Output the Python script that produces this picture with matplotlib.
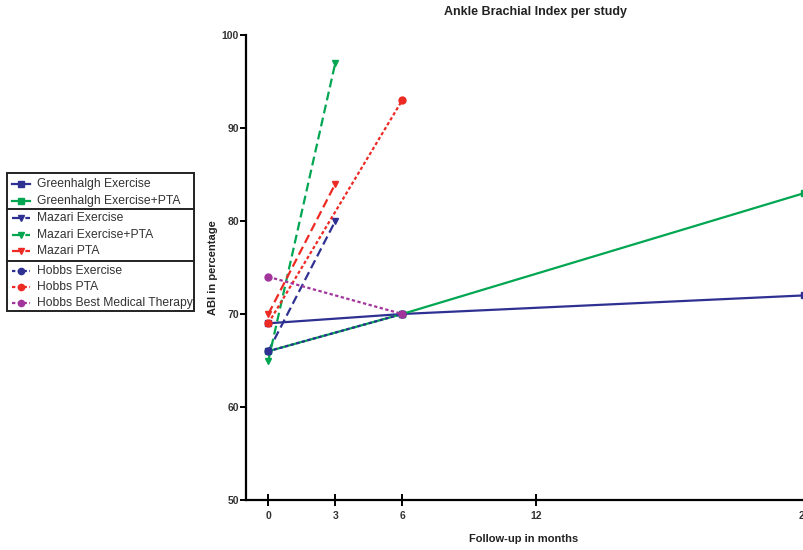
import matplotlib.pyplot as plt
from matplotlib.lines import Line2D
from matplotlib.patches import Rectangle

plt.rcParams['font.family'] = ['Liberation Sans', 'DejaVu Sans']

# follow-up time points (months) and ABI values (%) per study arm
greenhalgh_months = [0, 6, 24]
greenhalgh_exercise = [69, 70, 72]
greenhalgh_exercise_pta = [66, 70, 83]

mazari_months = [0, 3]
mazari_exercise = [66, 80]
mazari_exercise_pta = [65, 97]
mazari_pta = [70, 84]

hobbs_months = [0, 6]
hobbs_exercise = [66, 70]
hobbs_pta = [69, 93]
hobbs_bmt = [74, 70]

x_ticks = [0, 3, 6, 12, 24]
y_ticks = [50, 60, 70, 80, 90, 100]

BLUE = '#2f3192'
GREEN = '#00a651'
RED = '#ee2a24'
MAGENTA = '#a2359c'

DASHED = (4, 2)
DOTTED = (1.5, 1.1)

series = [
    # (label, x, y, colour, dashes, marker)
    ('Greenhalgh Exercise', greenhalgh_months, greenhalgh_exercise, BLUE, None, 's'),
    ('Greenhalgh Exercise+PTA', greenhalgh_months, greenhalgh_exercise_pta, GREEN, None, 's'),
    ('Mazari Exercise', mazari_months, mazari_exercise, BLUE, DASHED, 'v'),
    ('Mazari Exercise+PTA', mazari_months, mazari_exercise_pta, GREEN, DASHED, 'v'),
    ('Mazari PTA', mazari_months, mazari_pta, RED, DASHED, 'v'),
    ('Hobbs Exercise', hobbs_months, hobbs_exercise, BLUE, DOTTED, 'o'),
    ('Hobbs PTA', hobbs_months, hobbs_pta, RED, DOTTED, 'o'),
    ('Hobbs Best Medical Therapy', hobbs_months, hobbs_bmt, MAGENTA, DOTTED, 'o'),
]

W, H = 804, 550
fig = plt.figure(figsize=(W / 100, H / 100), dpi=100)

# axes run past the right edge so the 24-month point sits on the border
x0_px, x1_px = 246, 246 + 26 * 22.33
y0_px, y1_px = 500, 35
ax = fig.add_axes([x0_px / W, (H - y0_px) / H, (x1_px - x0_px) / W, (y0_px - y1_px) / H])
ax.set_xlim(-1, 25)
ax.set_ylim(50, 100)

for label, xs, ys, color, dashes, marker in series:
    line, = ax.plot(xs, ys, color=color, lw=1.6, marker=marker, ms=5,
                    markeredgecolor=color, clip_on=False, zorder=3)
    if dashes is not None:
        line.set_dashes(dashes)

for side in ['top', 'right']:
    ax.spines[side].set_visible(False)
for side in ['left', 'bottom']:
    ax.spines[side].set_linewidth(1.6)

ax.set_xticks(x_ticks)
ax.set_yticks(y_ticks)
ax.tick_params(axis='y', direction='out', length=4, width=1.4, pad=1,
               labelsize=7.5, labelcolor='#333333')
ax.tick_params(axis='x', direction='inout', length=8, width=1.4, pad=4,
               labelsize=7.5, labelcolor='#333333')
for t in ax.get_xticklabels() + ax.get_yticklabels():
    t.set_fontweight('bold')

fig.text(536 / W, 1 - 12 / H, 'Ankle Brachial Index per study', ha='center', va='center',
         fontsize=9, fontweight='bold', color='#222222')
fig.text(524 / W, 1 - 539 / H, 'Follow-up in months', ha='center', va='center',
         fontsize=8, fontweight='bold', color='#222222')
fig.text(213 / W, 1 - 268 / H, 'ABI in percentage', ha='center', va='center',
         rotation=90, fontsize=8, fontweight='bold', color='#222222')

# legend drawn by hand: one box split into three study groups
def fx(px):
    return px / W


def fy(py):
    return 1 - py / H


box_left, box_right, box_top, box_bottom = 7, 194, 173, 311
fig.add_artist(Rectangle((fx(box_left), fy(box_bottom)), fx(box_right - box_left),
                         (box_bottom - box_top) / H, transform=fig.transFigure,
                         fill=False, edgecolor='#222222', lw=1.4))
for sep in [209, 261]:
    fig.add_artist(Line2D([fx(box_left), fx(box_right)], [fy(sep), fy(sep)],
                          transform=fig.transFigure, color='#222222', lw=1.4))

entry_rows = [184, 201, 218, 235, 251, 271, 287, 303]
for (label, xs, ys, color, dashes, marker), row in zip(series, entry_rows):
    h = Line2D([fx(12), fx(30)], [fy(row), fy(row)], transform=fig.transFigure,
               color=color, lw=1.6)
    if dashes is not None:
        h.set_dashes(dashes)
    fig.add_artist(h)
    fig.add_artist(Line2D([fx(21)], [fy(row)], transform=fig.transFigure, color=color,
                          marker=marker, ms=4.5, lw=0))
    fig.text(fx(37), fy(row), label, ha='left', va='center', fontsize=8.7, color='#333333')

fig.savefig('out.png', dpi=100)
